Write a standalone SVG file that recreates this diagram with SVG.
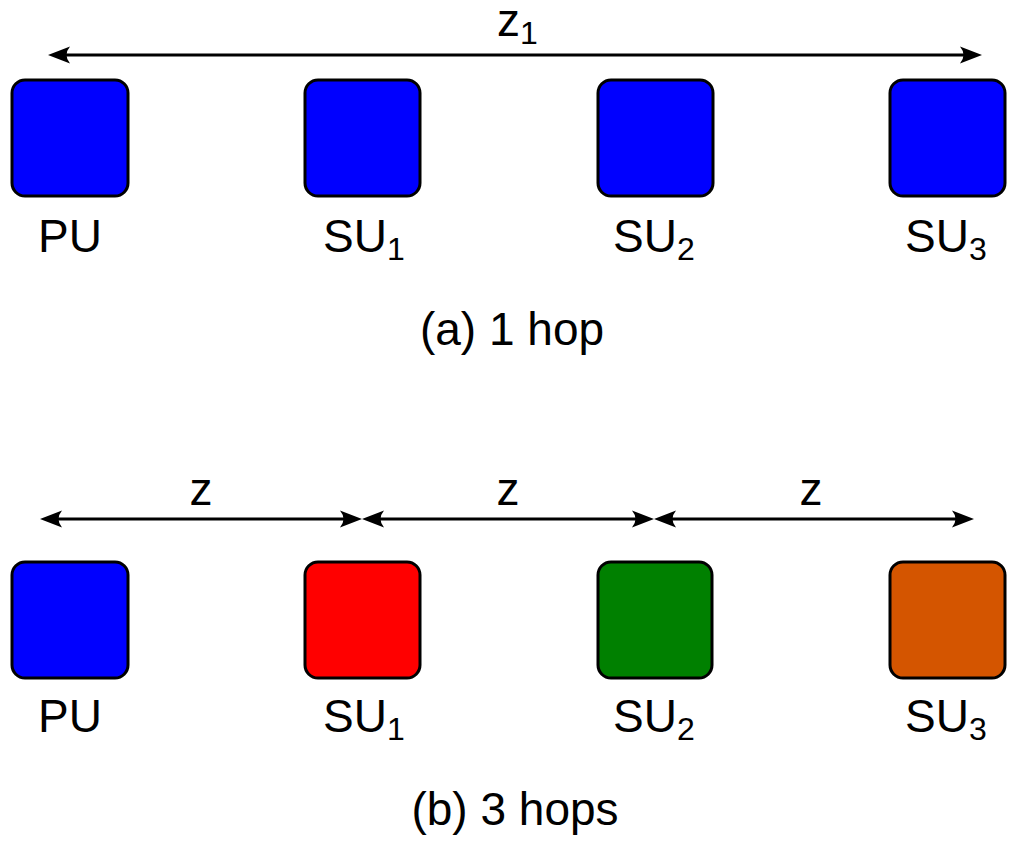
<svg xmlns="http://www.w3.org/2000/svg" width="1024" height="849" viewBox="0 0 1024 849">
<style>
.box{stroke:#000;stroke-width:3;}
.lbl{font-family:"Liberation Sans",Arial,sans-serif;font-size:46px;fill:#000;}
.sub{font-size:32px;}
.conn{stroke:#000;stroke-width:3;fill:none;marker-start:url(#ah);marker-end:url(#ah);}
</style>
<defs>
<marker id="ah" viewBox="-14 -10 26 20" refX="0" refY="0" markerWidth="26" markerHeight="20" markerUnits="userSpaceOnUse" orient="auto-start-reverse">
<path d="M10,0 L-12,-8.5 Q-5,0 -12,8.5 Z" fill="#000"/>
</marker>
</defs>
<rect width="1024" height="849" fill="#fff"/>
<g id="connectors">
<line class="conn" x1="58" y1="55" x2="972" y2="55"/>
<line class="conn" x1="50" y1="519" x2="352" y2="519"/>
<line class="conn" x1="372" y1="519" x2="644" y2="519"/>
<line class="conn" x1="664" y1="519" x2="964" y2="519"/>
</g>
<g id="edge-labels">
<text class="lbl" x="497" y="36">z<tspan class="sub" dy="8">1</tspan></text>
<text class="lbl" x="201" y="505" text-anchor="middle">z</text>
<text class="lbl" x="508" y="505" text-anchor="middle">z</text>
<text class="lbl" x="811" y="505" text-anchor="middle">z</text>
</g>
<g id="a-PU"><rect class="box" x="12" y="80" width="116" height="116" rx="13" fill="#0000ff"/><text class="lbl" x="38" y="252">PU</text></g>
<g id="a-SU1"><rect class="box" x="305" y="80" width="115" height="116" rx="13" fill="#0000ff"/><text class="lbl" x="323" y="252">SU<tspan class="sub" dy="8">1</tspan></text></g>
<g id="a-SU2"><rect class="box" x="598" y="80" width="115" height="116" rx="13" fill="#0000ff"/><text class="lbl" x="613" y="252">SU<tspan class="sub" dy="8">2</tspan></text></g>
<g id="a-SU3"><rect class="box" x="890" y="80" width="115" height="116" rx="13" fill="#0000ff"/><text class="lbl" x="905" y="252">SU<tspan class="sub" dy="8">3</tspan></text></g>
<text id="title-a" class="lbl" x="512" y="345" text-anchor="middle">(a) 1 hop</text>
<g id="b-PU"><rect class="box" x="12" y="562" width="116" height="116" rx="13" fill="#0000ff"/><text class="lbl" x="38" y="732">PU</text></g>
<g id="b-SU1"><rect class="box" x="305" y="562" width="115" height="116" rx="13" fill="#ff0000"/><text class="lbl" x="323" y="732">SU<tspan class="sub" dy="8">1</tspan></text></g>
<g id="b-SU2"><rect class="box" x="598" y="562" width="114" height="116" rx="13" fill="#008000"/><text class="lbl" x="613" y="732">SU<tspan class="sub" dy="8">2</tspan></text></g>
<g id="b-SU3"><rect class="box" x="890" y="562" width="115" height="116" rx="13" fill="#d45500"/><text class="lbl" x="905" y="732">SU<tspan class="sub" dy="8">3</tspan></text></g>
<text id="title-b" class="lbl" x="515" y="825" text-anchor="middle">(b) 3 hops</text>
</svg>
